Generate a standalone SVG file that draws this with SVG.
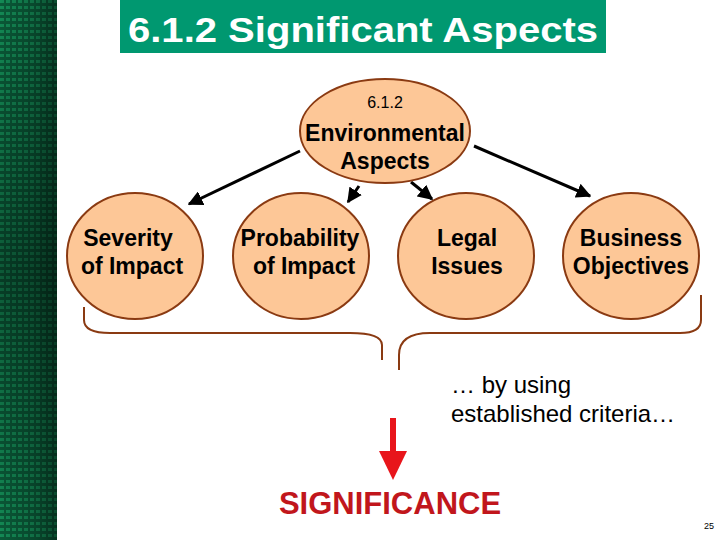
<svg xmlns="http://www.w3.org/2000/svg" width="720" height="540" viewBox="0 0 720 540">
<defs>
<pattern id="grid" x="0" y="0" width="6" height="6" patternUnits="userSpaceOnUse">
<rect width="6" height="6" fill="#0a5a38"/>
<rect x="0" y="0" width="4" height="3" fill="#138a55"/>
</pattern>
<linearGradient id="shade" x1="0" y1="0" x2="1" y2="0">
<stop offset="0" stop-color="#000" stop-opacity="0"/>
<stop offset="0.6" stop-color="#000" stop-opacity="0.2"/>
<stop offset="1" stop-color="#000" stop-opacity="0.45"/>
</linearGradient>
<linearGradient id="vshade" x1="0" y1="0" x2="0" y2="1">
<stop offset="0" stop-color="#000" stop-opacity="0"/>
<stop offset="0.5" stop-color="#000" stop-opacity="0.35"/>
<stop offset="1" stop-color="#000" stop-opacity="0"/>
</linearGradient>
<marker id="ah" viewBox="0 0 10 10" refX="9" refY="5" markerWidth="5" markerHeight="5" orient="auto">
<path d="M0,0 L10,5 L0,10 z" fill="#000"/>
</marker>
<style>
.node{fill:#FDC797;stroke:#8A3A12;stroke-width:2}
.lbl{font-family:"Liberation Sans",Arial,sans-serif;font-weight:bold;font-size:23px;fill:#000;text-anchor:middle}
.conn{stroke:#000;stroke-width:3;fill:none;marker-end:url(#ah)}
.brace{stroke:#8A3A12;stroke-width:2;fill:none}
</style>
</defs>
<rect width="720" height="540" fill="#fff"/>
<g id="sidebar">
<rect x="0" y="0" width="57" height="540" fill="url(#grid)"/>
<rect x="0" y="0" width="57" height="540" fill="url(#shade)"/>
<rect x="0" y="0" width="57" height="540" fill="url(#vshade)"/>
</g>
<g id="title">
<rect x="120" y="0" width="486" height="53" fill="#009870"/>
<text x="128" y="42" font-family="Liberation Sans,Arial,sans-serif" font-weight="bold" font-size="35" fill="#fff" textLength="470" lengthAdjust="spacingAndGlyphs">6.1.2 Significant Aspects</text>
</g>
<g id="connectors">
<line class="conn" x1="300" y1="151" x2="189" y2="204"/>
<line class="conn" x1="359" y1="186" x2="348" y2="202"/>
<line class="conn" x1="411" y1="182" x2="432" y2="199"/>
<line class="conn" x1="474" y1="146" x2="590" y2="196"/>
</g>
<g id="env">
<ellipse class="node" cx="385" cy="131" rx="85" ry="52"/>
<text x="385" y="108" font-family="Liberation Sans,Arial,sans-serif" font-size="16" text-anchor="middle">6.1.2</text>
<text class="lbl" x="385" y="141">Environmental</text>
<text class="lbl" x="385" y="169">Aspects</text>
</g>
<g id="severity">
<ellipse class="node" cx="135" cy="256" rx="68" ry="63"/>
<text class="lbl" x="128" y="246">Severity</text>
<text class="lbl" x="132" y="274">of Impact</text>
</g>
<g id="probability">
<ellipse class="node" cx="301" cy="256" rx="68" ry="63"/>
<text class="lbl" x="300" y="246">Probability</text>
<text class="lbl" x="304" y="274">of Impact</text>
</g>
<g id="legal">
<ellipse class="node" cx="466" cy="256" rx="68" ry="63"/>
<text class="lbl" x="467" y="246">Legal</text>
<text class="lbl" x="467" y="274">Issues</text>
</g>
<g id="business">
<ellipse class="node" cx="631" cy="256" rx="68" ry="63"/>
<text class="lbl" x="631" y="246">Business</text>
<text class="lbl" x="631" y="274">Objectives</text>
</g>
<g id="braces">
<path class="brace" d="M84,307 V320 Q84,333 110,333 H350 Q382,333 382,345 V360"/>
<path class="brace" d="M399,370 V355 Q399,333 430,333 H680 Q701,333 701,320 V295"/>
</g>
<g id="criteria">
<text font-family="Liberation Sans,Arial,sans-serif" font-size="24" fill="#000"><tspan x="451" y="393">… by using</tspan><tspan x="451" y="422">established criteria…</tspan></text>
</g>
<g id="result">
<line x1="393" y1="418" x2="393" y2="452" stroke="#E8151B" stroke-width="6"/>
<path d="M379,451 L407,451 L393,480 z" fill="#E8151B"/>
<text x="390" y="514" font-family="Liberation Sans,Arial,sans-serif" font-weight="bold" font-size="31" fill="#C1161C" text-anchor="middle">SIGNIFICANCE</text>
</g>
<text x="709" y="529" font-family="Liberation Sans,Arial,sans-serif" font-size="9" fill="#000" text-anchor="middle">25</text>
</svg>
